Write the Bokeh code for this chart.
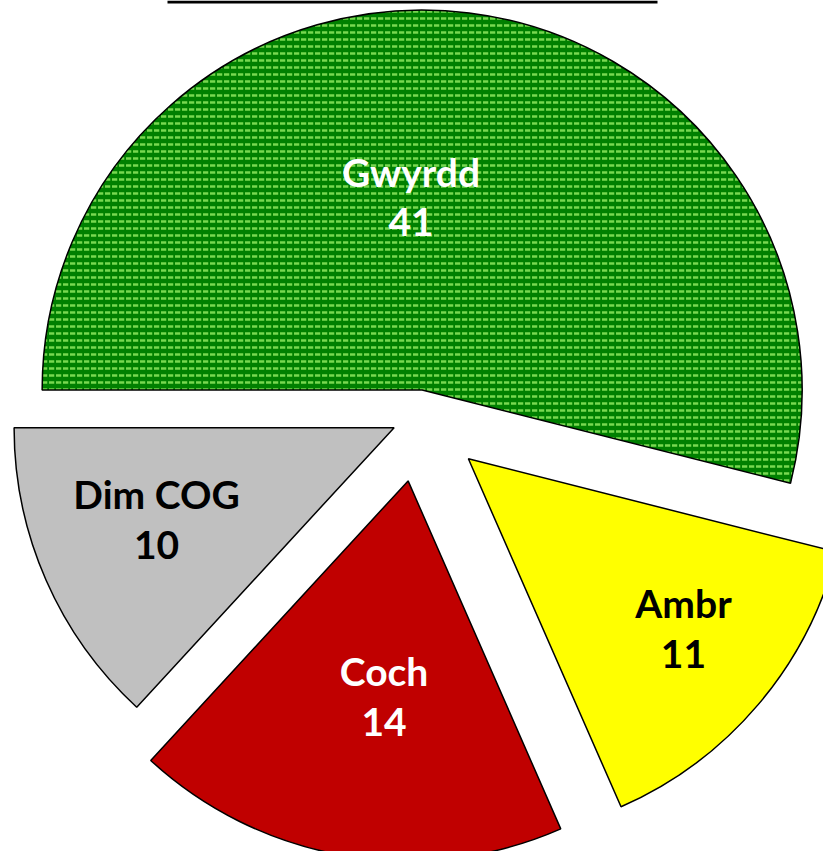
import numpy as np
from bokeh.plotting import figure
from bokeh.models import Range1d, ColumnDataSource
from bokeh.embed import file_html
from bokeh.resources import INLINE
from bokeh.core.properties import value

# ---- data ----
categories = ["Gwyrdd", "Ambr", "Coch", "Dim COG"]
counts = [41, 11, 14, 10]

# ---- styles ----
colors = ["#008000", "#FFFF00", "#C00000", "#C0C0C0"]
hatches = ["horizontal_dash", " ", " ", " "]
label_colors = ["white", "black", "white", "black"]
explode = [0.071, 0.171, 0.171, 0.071]       # fraction of radius
label_frac = [0.51, 0.72, 0.57, 0.67]        # label distance from slice tip
label_turn = [10.4, 2.1, 3.1, -2.6]          # label angle nudge (deg)
first_angle = 180.0                          # slices start at 9 o'clock, clockwise

PX = 380.0                 # pixels per unit radius
W, H = 823, 851
cx_px, cy_px = 418.3, 416.3  # pie centre inside the figure (px)

total = sum(counts)
cum = np.cumsum([0] + counts)
start = [first_angle - cum[i] * 360.0 / total for i in range(len(counts))]
end = [first_angle - cum[i + 1] * 360.0 / total for i in range(len(counts))]
mid = [(s + e) / 2 for s, e in zip(start, end)]

xs = [explode[i] * np.cos(np.radians(mid[i])) for i in range(len(counts))]
ys = [explode[i] * np.sin(np.radians(mid[i])) for i in range(len(counts))]
lx = [xs[i] + label_frac[i] * np.cos(np.radians(mid[i] + label_turn[i])) for i in range(len(counts))]
ly = [ys[i] + label_frac[i] * np.sin(np.radians(mid[i] + label_turn[i])) for i in range(len(counts))]
labels = [f"{c}\n{v}" for c, v in zip(categories, counts)]

src = ColumnDataSource(dict(x=xs, y=ys, start=list(np.radians(start)),
                            end=list(np.radians(end)), color=colors,
                            hatch=hatches, lx=lx, ly=ly, label=labels,
                            lcolor=label_colors))

x0 = -cx_px / PX
y1 = cy_px / PX
p = figure(width=W, height=H, output_backend="svg", toolbar_location=None,
           x_range=Range1d(x0, x0 + W / PX), y_range=Range1d(y1 - H / PX, y1),
           min_border=0, outline_line_color=None)
p.axis.visible = False
p.grid.visible = False
p.background_fill_color = "white"

p.wedge(x="x", y="y", radius=1.0, start_angle="start", end_angle="end",
        direction="clock", source=src,
        fill_color="color", line_color="black", line_width=1.5,
        hatch_pattern="hatch", hatch_color="#78D850", hatch_scale=7,
        hatch_weight=2.5)

p.text(x="lx", y="ly", text="label", source=src, text_color="lcolor",
       text_font=value("Lato"), text_font_style="bold",
       text_font_size="39px", text_align="center", text_baseline="middle",
       text_line_height=1.08)

# underline of the (cropped) chart title
title_rule_x = [(167 - cx_px) / PX, (657 - cx_px) / PX]
title_rule_y = (cy_px - 1.5) / PX
p.segment(x0=title_rule_x[0], y0=title_rule_y, x1=title_rule_x[1], y1=title_rule_y,
          line_color="black", line_width=3)

open("out.html", "w").write(file_html(p, INLINE))
